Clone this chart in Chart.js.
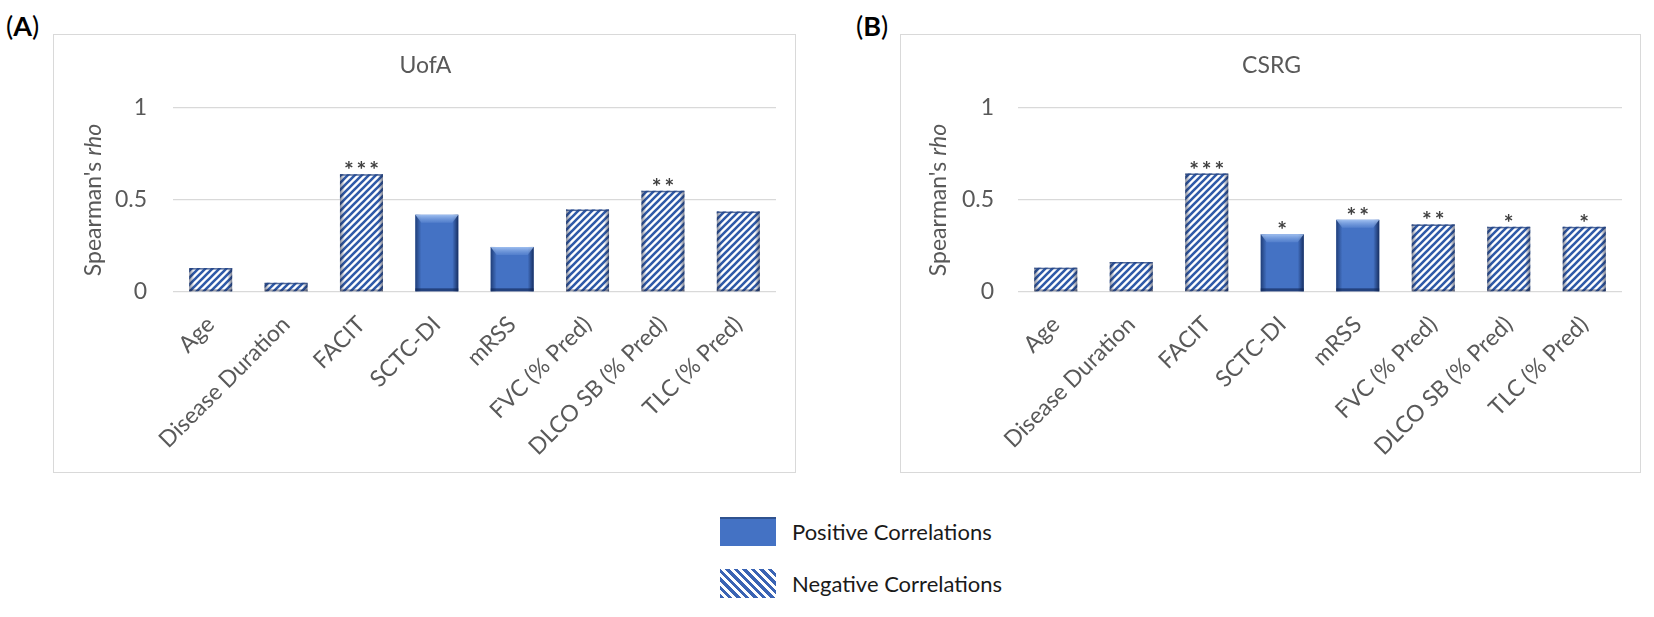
<!DOCTYPE html>
<html>
<head>
<meta charset="utf-8">
<script src="https://cdn.jsdelivr.net/npm/chart.js@4.4.1/dist/chart.umd.min.js"></script>
<style>
  body { margin: 0; background: #fff; font-family: Lato, "Open Sans", sans-serif; }
  .panel { position: absolute; border: 1px solid #D9D9D9; box-sizing: border-box; }
  .panel canvas { position: absolute; left: 0; top: 0; }
  .tag { position: absolute; font-size: 27px; color: #000; line-height: 30px; }
  .tag b { font-weight: 700; }
  .lg-box { position: absolute; width: 56px; height: 29px; box-sizing: border-box; }
  .lg-text { position: absolute; font-size: 22px; color: #1a1a1a; line-height: 29px; }
</style>
</head>
<body>
<div class="tag" style="left:6px;top:11px">(<b>A</b>)</div>
<div class="tag" style="left:856px;top:11px">(<b>B</b>)</div>

<div class="panel" style="left:53px;top:34px;width:743px;height:439px">
  <canvas id="chartA" width="743" height="439"></canvas>
</div>
<div class="panel" style="left:900px;top:34px;width:741px;height:439px">
  <canvas id="chartB" width="741" height="439"></canvas>
</div>

<div class="lg-box" style="left:720px;top:517px;background:#4472C4;border-top:2px solid #2F528F;"></div>
<div class="lg-text" style="left:792px;top:517px">Positive Correlations</div>
<div class="lg-box" style="left:720px;top:569px;background:repeating-linear-gradient(45deg,#3B64B4 0 3px,#fff 3px 6px);"></div>
<div class="lg-text" style="left:792px;top:569px">Negative Correlations</div>

<script>
'use strict';

// categories and values
const categories = ['Age', 'Disease Duration', 'FACIT', 'SCTC-DI', 'mRSS',
  'FVC (% Pred)', 'DLCO SB (% Pred)', 'TLC (% Pred)'];
const direction = ['neg', 'neg', 'neg', 'pos', 'pos', 'neg', 'neg', 'neg'];
const uofaRho = [0.13, 0.05, 0.64, 0.42, 0.245, 0.448, 0.55, 0.437];
const uofaSig = ['', '', '***', '', '', '', '**', ''];
const csrgRho = [0.132, 0.163, 0.644, 0.314, 0.392, 0.367, 0.354, 0.354];
const csrgSig = ['', '', '***', '*', '**', '**', '*', '*'];
const yTicks = [0, 0.5, 1];

const BLUE = '#4472C4';
const TEXT = '#595959';
const FONT = 'Lato';

// diagonal stripes "///" for negative correlations
function stripePattern() {
  const p = 7;
  const c = document.createElement('canvas');
  c.width = p; c.height = p;
  const g = c.getContext('2d');
  g.fillStyle = '#fff';
  g.fillRect(0, 0, p, p);
  g.strokeStyle = '#2F5AA8';
  g.lineWidth = 2.6;
  g.beginPath();
  g.moveTo(0, p); g.lineTo(p, 0);
  g.moveTo(-1, 1); g.lineTo(1, -1);
  g.moveTo(p - 1, p + 1); g.lineTo(p + 1, p - 1);
  g.stroke();
  return g.createPattern(c, 'repeat');
}
const hatch = stripePattern();

// bevel / shading on top of bars, plus significance stars
const barDecor = {
  id: 'barDecor',
  afterDatasetsDraw(chart, args, opts) {
    const ctx = chart.ctx;
    const meta = chart.getDatasetMeta(0);
    meta.data.forEach((bar, i) => {
      const {x, y, base, width} = bar.getProps(['x', 'y', 'base', 'width'], true);
      const l = x - width / 2, r = x + width / 2, h = base - y;
      ctx.save();
      if (direction[i] === 'pos') {
        let g = ctx.createLinearGradient(l, 0, l + 6, 0);
        g.addColorStop(0, 'rgba(20,45,95,0.75)');
        g.addColorStop(1, 'rgba(20,45,95,0)');
        ctx.fillStyle = g; ctx.fillRect(l, y, 6, h);
        g = ctx.createLinearGradient(r - 6, 0, r, 0);
        g.addColorStop(0, 'rgba(15,35,80,0)');
        g.addColorStop(1, 'rgba(15,35,80,0.85)');
        ctx.fillStyle = g; ctx.fillRect(r - 6, y, 6, h);
        const t = Math.min(8, h / 3);
        g = ctx.createLinearGradient(0, y, 0, y + t);
        g.addColorStop(0, 'rgba(170,200,245,0.9)');
        g.addColorStop(1, 'rgba(120,160,225,0.3)');
        ctx.fillStyle = g;
        ctx.beginPath();
        ctx.moveTo(l, y); ctx.lineTo(r, y);
        ctx.lineTo(r - 6, y + t); ctx.lineTo(l + 6, y + t);
        ctx.closePath(); ctx.fill();
        ctx.fillStyle = 'rgba(15,35,80,0.6)';
        ctx.fillRect(l, base - 3, width, 3);
      } else {
        let g = ctx.createLinearGradient(l, 0, l + 5, 0);
        g.addColorStop(0, 'rgba(30,40,70,0.55)');
        g.addColorStop(1, 'rgba(30,40,70,0)');
        ctx.fillStyle = g; ctx.fillRect(l, y, 5, h);
        g = ctx.createLinearGradient(r - 5, 0, r, 0);
        g.addColorStop(0, 'rgba(30,40,70,0)');
        g.addColorStop(1, 'rgba(30,40,70,0.6)');
        ctx.fillStyle = g; ctx.fillRect(r - 5, y, 5, h);
        ctx.fillStyle = 'rgba(30,40,70,0.45)';
        ctx.fillRect(l, base - 2, width, 2);
        ctx.fillStyle = 'rgba(40,70,130,0.8)';
        ctx.fillRect(l, y, width, 1.5);
      }
      const s = opts.stars[i];
      if (s) {
        ctx.fillStyle = '#404040';
        ctx.font = '700 23px ' + FONT;
        ctx.textAlign = 'center';
        ctx.textBaseline = 'alphabetic';
        ctx.fillText(s.split('').join('\u2009'), x, y + 4);
      }
      ctx.restore();
    });
  }
};

// "Spearman's rho" with rho in italics
const yTitle = {
  id: 'yTitle',
  afterDraw(chart, args, opts) {
    const ctx = chart.ctx;
    const a = chart.chartArea;
    const cy = (a.top + a.bottom) / 2;
    const fPlain = '23px ' + FONT;
    const fItal = 'italic 23px ' + FONT;
    ctx.save();
    ctx.font = fPlain;
    const w1 = ctx.measureText("Spearman's ").width;
    ctx.font = fItal;
    const w2 = ctx.measureText('rho').width;
    ctx.translate(opts.x, cy);
    ctx.rotate(-Math.PI / 2);
    ctx.fillStyle = TEXT;
    ctx.textBaseline = 'middle';
    ctx.textAlign = 'left';
    ctx.font = fPlain;
    ctx.fillText("Spearman's ", -(w1 + w2) / 2, 0);
    ctx.font = fItal;
    ctx.fillText('rho', -(w1 + w2) / 2 + w1, 0);
    ctx.restore();
  }
};

// panel title centred on the whole box
const panelTitle = {
  id: 'panelTitle',
  afterDraw(chart, args, opts) {
    const ctx = chart.ctx;
    ctx.save();
    ctx.fillStyle = TEXT;
    ctx.font = '23px ' + FONT;
    ctx.textAlign = 'center';
    ctx.textBaseline = 'middle';
    ctx.fillText(opts.text, chart.width / 2, opts.y);
    ctx.restore();
  }
};

function createChart(el, title, values, stars, box) {
  return new Chart(document.getElementById(el), {
    type: 'bar',
    data: {
      labels: categories,
      datasets: [{
        data: values,
        backgroundColor: direction.map(d => d === 'pos' ? BLUE : hatch),
        borderWidth: 0,
        categoryPercentage: 1,
        barPercentage: 0.57
      }]
    },
    options: {
      responsive: false,
      animation: false,
      layout: {
        padding: { left: 0, right: box.right, top: 73, bottom: 0 }
      },
      scales: {
        x: {
          grid: { display: false },
          border: { display: false },
          afterFit: (s) => { s.height = 182; },
          ticks: {
            autoSkip: false,
            minRotation: 45,
            maxRotation: 45,
            padding: 11,
            color: TEXT,
            font: { family: FONT, size: 23 }
          }
        },
        y: {
          min: 0,
          max: 1,
          afterFit: (s) => { s.width = box.left; },
          afterBuildTicks: (s) => { s.ticks = yTicks.map(v => ({ value: v })); },
          grid: { color: '#D9D9D9', lineWidth: 1.3, drawTicks: false },
          border: { display: false },
          ticks: {
            padding: box.tickPad,
            color: TEXT,
            font: { family: FONT, size: 23 },
            callback: (v) => String(v)
          }
        }
      },
      plugins: {
        legend: { display: false },
        tooltip: { enabled: false },
        title: { display: false },
        barDecor: { stars: stars },
        yTitle: { x: box.titleX },
        panelTitle: { text: title, y: 31 }
      }
    },
    plugins: [barDecor, yTitle, panelTitle]
  });
}

createChart('chartA', 'UofA', uofaRho, uofaSig, { left: 119, right: 21, tickPad: 26, titleX: 40 });
createChart('chartB', 'CSRG', csrgRho, csrgSig, { left: 117, right: 20, tickPad: 24, titleX: 38 });
</script>
</body>
</html>
